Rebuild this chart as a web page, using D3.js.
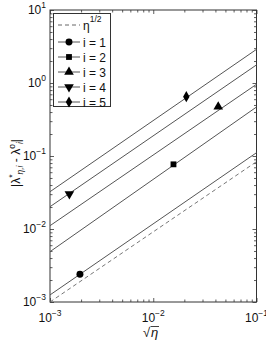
<!DOCTYPE html>
<html>
<head>
<meta charset="utf-8">
<script src="https://cdn.jsdelivr.net/npm/d3@7"></script>
<style>
  body { margin: 0; background: #fff; }
  svg { display: block; font-family: "Liberation Sans", Arial, sans-serif; }
</style>
</head>
<body>
<div id="chart"></div>
<script>
// sqrt(eta) at the two ends of every line
var sqrtEta = [0.001, 0.1];

// line values read at both ends
var refLine = [0.001, 0.0836];
var seriesNames = ["i = 1", "i = 2", "i = 3", "i = 4", "i = 5"];
var seriesValues = [
  [0.00125, 0.111],
  [0.00489, 0.469],
  [0.0111, 0.96],
  [0.0202, 1.77],
  [0.0324, 2.89]
];

// one marker on each line
var markerX = [0.00195, 0.0157, 0.0426, 0.00154, 0.0209];
var markerY = [0.0024, 0.0769, 0.473, 0.0301, 0.649];

var xTickExp = [-3, -2, -1];
var yTickExp = [-3, -2, -1, 0, 1];

var svgWidth = 266, svgHeight = 341;
var margin = { top: 10, right: 9.5, bottom: 39, left: 50 };
var width = svgWidth - margin.left - margin.right;
var height = svgHeight - margin.top - margin.bottom;

var svg = d3.select("#chart").append("svg")
  .attr("width", svgWidth)
  .attr("height", svgHeight);

var g = svg.append("g")
  .attr("transform", `translate(${margin.left}, ${margin.top})`);

var xScale = d3.scaleLog().domain([1e-3, 1e-1]).range([0, width]);
var yScale = d3.scaleLog().domain([1e-3, 10]).range([height, 0]);

// major and minor tick values
function minors(scale) {
  return scale.ticks().filter(function(v) {
    var e = Math.log10(v);
    return Math.abs(e - Math.round(e)) > 1e-6;
  });
}
var xMajor = xTickExp.map(e => Math.pow(10, e));
var yMajor = yTickExp.map(e => Math.pow(10, e));

function drawTicks(axis, values, size, transform) {
  var a = g.append("g")
    .attr("transform", transform)
    .call(axis.tickValues(values).tickSize(size).tickFormat(""));
  a.select(".domain").remove();
  a.selectAll("line").attr("stroke", "#333").attr("stroke-width", 0.8);
}

drawTicks(d3.axisBottom(xScale), xMajor, -4, `translate(0, ${height})`);
drawTicks(d3.axisBottom(xScale), minors(xScale), -2.5, `translate(0, ${height})`);
drawTicks(d3.axisTop(xScale), xMajor, -4, "translate(0, 0)");
drawTicks(d3.axisTop(xScale), minors(xScale), -2.5, "translate(0, 0)");
drawTicks(d3.axisLeft(yScale), yMajor, -4, "translate(0, 0)");
drawTicks(d3.axisLeft(yScale), minors(yScale), -2.5, "translate(0, 0)");
drawTicks(d3.axisRight(yScale), yMajor, -4, `translate(${width}, 0)`);
drawTicks(d3.axisRight(yScale), minors(yScale), -2.5, `translate(${width}, 0)`);

// frame
g.append("rect")
  .attr("width", width)
  .attr("height", height)
  .attr("fill", "none")
  .attr("stroke", "#333")
  .attr("stroke-width", 1);

// tick labels, 10 with superscript
xTickExp.forEach(function(e) {
  var t = g.append("text")
    .attr("x", xScale(Math.pow(10, e)))
    .attr("y", height + 20)
    .attr("text-anchor", "middle")
    .attr("font-size", 12)
    .attr("fill", "#111");
  t.append("tspan").text("10");
  t.append("tspan").attr("dy", -6).attr("font-size", 8.5).text("\u2212" + Math.abs(e));
});

yTickExp.forEach(function(e) {
  var t = g.append("text")
    .attr("x", -4)
    .attr("y", yScale(Math.pow(10, e)) + 4)
    .attr("text-anchor", "end")
    .attr("font-size", 12)
    .attr("fill", "#111");
  t.append("tspan").text("10");
  t.append("tspan").attr("dy", -6).attr("font-size", 8.5)
    .text(e < 0 ? "\u2212" + Math.abs(e) : String(e));
});

var line = d3.line()
  .x(d => xScale(d[0]))
  .y(d => yScale(d[1]));

var plot = g.append("g");

plot.append("path")
  .datum(sqrtEta.map((x, k) => [x, refLine[k]]))
  .attr("d", line)
  .attr("fill", "none")
  .attr("stroke", "#666")
  .attr("stroke-width", 0.9)
  .attr("stroke-dasharray", "4,3");

plot.selectAll(".series")
  .data(seriesValues)
  .enter()
  .append("path")
  .attr("class", "series")
  .attr("d", vals => line(sqrtEta.map((x, k) => [x, vals[k]])))
  .attr("fill", "none")
  .attr("stroke", "#555")
  .attr("stroke-width", 1);

// marker shapes
var symbols = [
  { type: d3.symbolCircle, size: 38, rot: 0 },
  { type: d3.symbolSquare, size: 34, rot: 0 },
  { type: d3.symbolTriangle, size: 40, rot: 0 },
  { type: d3.symbolTriangle, size: 40, rot: 180 },
  { type: d3.symbolDiamond, size: 36, rot: 0 }
];

function marker(sel, k, x, y) {
  var s = symbols[k];
  sel.append("path")
    .attr("d", d3.symbol().type(s.type).size(s.size)())
    .attr("transform", `translate(${x}, ${y}) rotate(${s.rot})`)
    .attr("fill", "#000");
}

markerX.forEach(function(mx, k) {
  marker(plot, k, xScale(mx), yScale(markerY[k]));
});

// legend
var legend = svg.append("g");
legend.append("rect")
  .attr("x", 53.5)
  .attr("y", 13.5)
  .attr("width", 57)
  .attr("height", 93)
  .attr("fill", "#fff")
  .attr("stroke", "#333")
  .attr("stroke-width", 1);

var rowY = [25, 42, 57, 72, 87, 102];

legend.append("line")
  .attr("x1", 58).attr("x2", 80)
  .attr("y1", rowY[0]).attr("y2", rowY[0])
  .attr("stroke", "#666")
  .attr("stroke-dasharray", "4,3");
var lt = legend.append("text")
  .attr("x", 83)
  .attr("y", rowY[0] + 5)
  .attr("font-size", 12)
  .attr("fill", "#111");
lt.append("tspan").text("\u03b7");
lt.append("tspan").attr("dy", -8).attr("font-size", 8.5).text("1/2");

seriesNames.forEach(function(name, k) {
  var yy = rowY[k + 1];
  legend.append("line")
    .attr("x1", 58).attr("x2", 80)
    .attr("y1", yy).attr("y2", yy)
    .attr("stroke", "#555");
  marker(legend, k, 69, yy);
  legend.append("text")
    .attr("x", 83)
    .attr("y", yy + 4.5)
    .attr("font-size", 12)
    .attr("fill", "#111")
    .text(name);
});

// axis labels
var yl = svg.append("text")
  .attr("transform", "translate(20, 163) rotate(-90)")
  .attr("text-anchor", "middle")
  .attr("font-size", 12)
  .attr("fill", "#111");
yl.append("tspan").text("|\u03bb");
yl.append("tspan").attr("dy", -5).attr("font-size", 8.5).text("*");
yl.append("tspan").attr("dy", 8).attr("font-size", 8.5).attr("font-style", "italic").text("\u03b7,i");
yl.append("tspan").attr("dy", -3).text(" - \u03bb");
yl.append("tspan").attr("dy", -5).attr("font-size", 8.5).text("o");
yl.append("tspan").attr("dy", 8).attr("font-size", 8.5).attr("font-style", "italic").text("i");
yl.append("tspan").attr("dy", -3).text("|");

var xl = svg.append("g");
xl.append("text")
  .attr("x", 143)
  .attr("y", 337)
  .attr("font-size", 13)
  .attr("fill", "#111")
  .text("\u221a");
xl.append("text")
  .attr("x", 151)
  .attr("y", 337)
  .attr("font-size", 13)
  .attr("font-style", "italic")
  .attr("fill", "#111")
  .text("\u03b7");
xl.append("line")
  .attr("x1", 150.5).attr("x2", 159)
  .attr("y1", 326.5).attr("y2", 326.5)
  .attr("stroke", "#111")
  .attr("stroke-width", 0.8);
</script>
</body>
</html>
